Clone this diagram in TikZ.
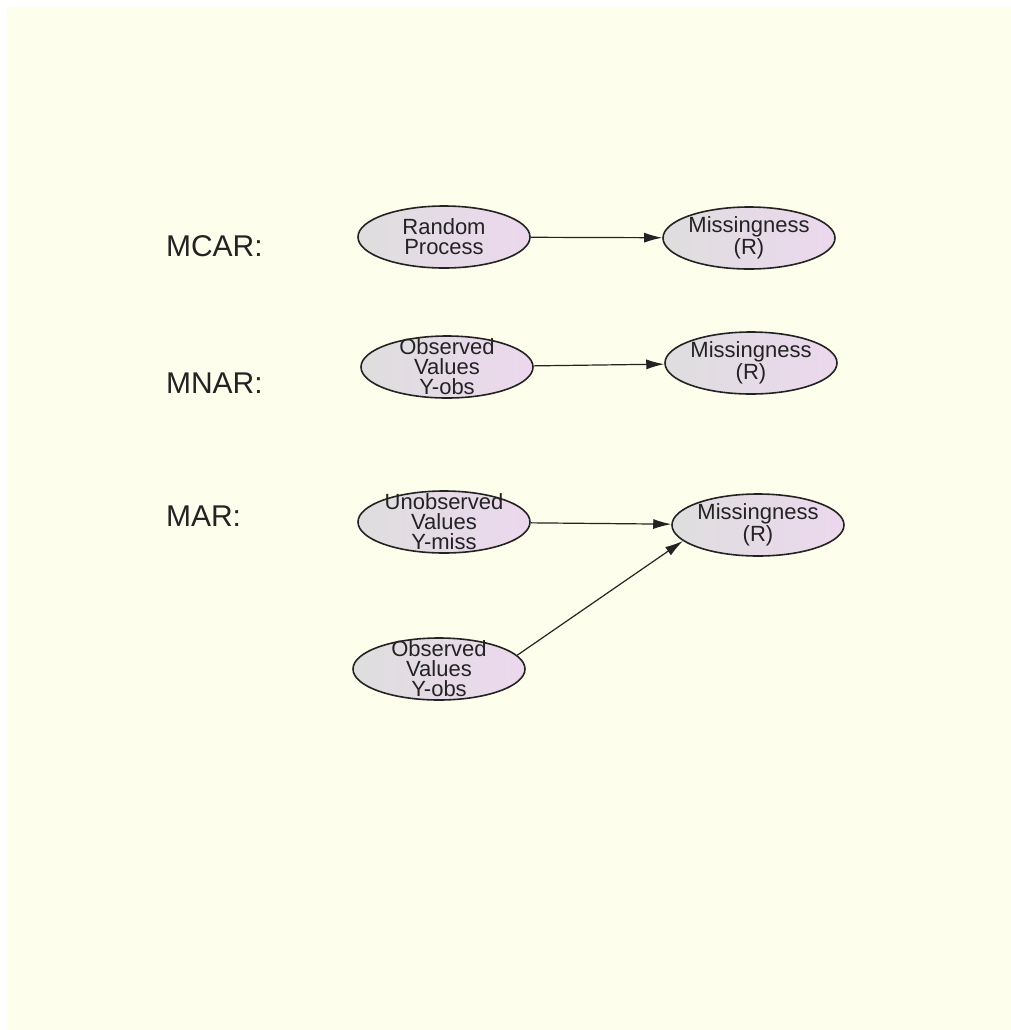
\documentclass[tikz,border=0pt]{standalone}
\usepackage{fontspec}
\setmainfont{Liberation Sans}
\usetikzlibrary{arrows.meta}
\usetikzlibrary{shapes.geometric}
\usepackage{xcolor}

\definecolor{paper}{RGB}{254,254,237}
\definecolor{nodeleft}{RGB}{222,222,222}
\definecolor{noderight}{RGB}{236,216,238}
\definecolor{ink}{RGB}{35,35,35}

\tikzset{
  var/.style={ellipse, draw=ink, line width=0.8pt, inner sep=0pt,
    minimum width=86pt, minimum height=31pt,
    left color=nodeleft, right color=noderight},
  vartext/.style={align=center, text=ink, font=\fontsize{11}{10}\selectfont},
  kind/.style={anchor=west, text=ink, font=\fontsize{15}{17}\selectfont},
  link/.style={draw=ink, line width=0.6pt, -{Latex[length=9pt,width=5pt]}}
}

\begin{document}
\begin{tikzpicture}[x=0.5pt,y=-0.5pt]
      % Page
      \useasboundingbox (0,0) rectangle (1011,1030);
      \fill[paper] (7,7) rectangle (1011,1030);

      % Row labels
      \node[kind] (lmcar) at (159,246) {MCAR:};
      \node[kind] (lmnar) at (159,383) {MNAR:};
      \node[kind] (lmar)  at (159,516) {MAR:};

      % MCAR
      \node[var, label={[vartext]center:Random\\Process}] (rp) at (444,237) {};
      \node[var, label={[vartext]center:Missingness\\(R)}] (ra) at (749,238) {};

      % MNAR
      \node[var, label={[vartext]center:Observed\\Values\\Y-obs}] (obsa) at (447,367) {};
      \node[var, label={[vartext]center:Missingness\\(R)}] (rb) at (751,363) {};

      % MAR
      \node[var, label={[vartext]center:Unobserved\\Values\\Y-miss}] (miss) at (444,522) {};
      \node[var, label={[vartext]center:Observed\\Values\\Y-obs}] (obsb) at (439,669) {};
      \node[var, label={[vartext]center:Missingness\\(R)}] (rc) at (758,525) {};

      % Arrows
      \draw[link] (rp) -- (ra);
      \draw[link] (obsa) -- (rb);
      \draw[link] (miss) -- (rc);
      \draw[link] (obsb.10) -- (rc.192);
  \end{tikzpicture}
\end{document}
